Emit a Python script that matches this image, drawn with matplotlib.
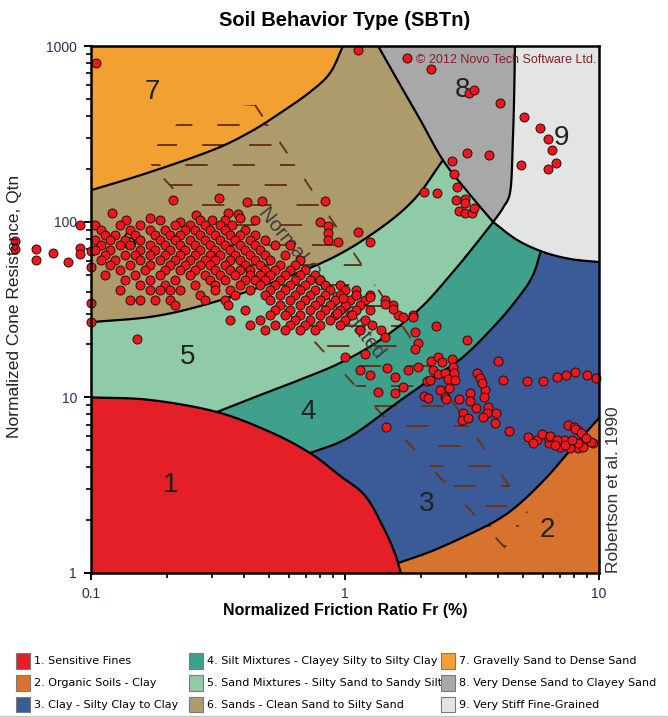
import numpy as np
import matplotlib
matplotlib.use("Agg")
import matplotlib.pyplot as plt
from matplotlib.patches import Patch, Polygon
from matplotlib.lines import Line2D

plt.rcParams['font.family'] = ['Liberation Sans', 'DejaVu Sans']
plt.rcParams['lines.scale_dashes'] = False

# zone colours and legend names
zone_colors = ['#e41f27', '#d8732f', '#3a5a98', '#3fa08c', '#8fcba6',
               '#ad9b6c', '#f3a032', '#a8a8a8', '#e3e4e4']
zone_names = ['1. Sensitive Fines', '2. Organic Soils - Clay', '3. Clay - Silty Clay to Clay',
              '4. Silt Mixtures - Clayey Silty to Silty Clay',
              '5. Sand Mixtures - Silty Sand to Sandy Silt',
              '6. Sands - Clean Sand to Silty Sand', '7. Gravelly Sand to Dense Sand',
              '8. Very Dense Sand to Clayey Sand', '9. Very Stiff Fine-Grained']

# zone boundaries (Fr %, Qtn)
b1_fr = [0.1, 0.171, 0.313, 0.507, 0.728, 0.95, 1.2, 1.42, 1.57, 1.66]
b1_q = [10.0, 9.66, 8.25, 6.35, 4.82, 3.6, 2.75, 1.8, 1.3, 1.0]
b32_fr = [1.62, 2.16, 2.92, 3.97, 4.90, 6.24, 7.72, 10.0]
b32_q = [1.14, 1.32, 1.60, 2.00, 2.50, 3.52, 5.01, 7.63]
b43_fr = [0.728, 0.956, 1.18, 1.60, 2.16, 2.92, 3.97, 4.90, 5.50, 5.90]
b43_q = [4.82, 5.57, 6.69, 9.29, 12.6, 17.0, 26.5, 38.3, 49.7, 68.0]
b54_fr = [0.313, 0.463, 0.665, 0.956, 1.375, 1.98, 2.66, 3.25, 3.83]
b54_q = [8.25, 10.3, 12.6, 15.7, 21.2, 32.2, 51.7, 73.6, 99.5]
b65_fr = [0.1, 0.171, 0.269, 0.463, 0.873, 1.375, 1.89, 2.43]
b65_q = [26.8, 28.7, 33.1, 42.5, 61.3, 91.6, 136, 224]
b76_fr = [0.1, 0.166, 0.302, 0.423, 0.555, 0.728, 0.873, 0.982]
b76_q = [151, 189, 256, 324, 415, 547, 702, 1000]
b8_fr = [1.35, 1.65, 1.98, 2.43, 3.05, 3.83]
b8_q = [1000, 600, 379, 224, 147, 99.5]
b9l_fr = [4.67, 4.63, 4.58, 4.48, 4.19, 3.83]
b9l_q = [1000, 493, 292, 151, 120, 99.5]
b9b_fr = [3.83, 4.76, 6.03, 7.72, 10.0]
b9b_q = [99.5, 78.7, 67.2, 61.3, 58.9]

# normally consolidated band outline
nc_fr = [0.245, 0.442, 5.21, 4.27, 0.163]
nc_q = [432, 462, 2.20, 1.39, 230]

# zone label positions
lab_text = ['1', '2', '3', '4', '5', '6', '7', '8', '9']
lab_fr = [0.205, 6.24, 2.10, 0.715, 0.239, 0.142, 0.174, 2.89, 7.14]
lab_q = [3.17, 1.76, 2.47, 8.25, 17.0, 75.6, 547, 562, 299]

# data points: left of the axis, upper zones, scattered and the clay hook
fr_off = [0.0502, 0.0502, 0.0607, 0.0607, 0.0708, 0.0812, 0.0905, 0.0905, 0.0905, 0.100, 0.100, 0.100, 0.100]
q_off = [77.6, 69.9, 69.9, 60.5, 66.3, 58.9, 95.7, 70.8, 65.4, 68.1, 55.2, 34.4, 26.8]

fr_hi = [0.105, 1.12, 1.75, 2.18, 3.08, 3.22, 4.08, 3.02, 3.69, 2.64, 2.69, 2.76, 2.74, 2.97,
         2.97, 2.80, 2.97, 3.16, 3.22, 2.05, 2.30, 5.07, 5.86, 6.30, 6.53, 6.77, 6.30, 4.93]
q_hi = [800, 948, 855, 740, 540, 562, 474, 246, 240, 221, 187, 157, 133, 135,
        128, 115, 112, 112, 120, 147, 146, 394, 341, 296, 256, 216, 199, 210]

fr_sp = [0.210, 0.319, 0.412, 0.472, 0.835, 0.121, 0.171, 0.224, 0.259, 0.346, 0.379, 0.386,
         0.798, 0.86, 0.86, 0.86, 0.94, 1.12, 1.25]
q_sp = [133, 136, 129, 131, 131, 112, 105, 99, 109, 112, 111, 105,
        100, 94.5, 86, 78.7, 77, 87.4, 76.6]

row_q = [102, 95.7, 89.7, 84.0, 78.7, 73.6, 69.1, 64.6, 60.5, 56.7, 53.1, 49.7,
         46.6, 43.6, 40.8, 38.3, 35.8, 33.5, 31.4, 29.4, 27.6, 25.8, 24.2]
row_fr = [
    [0.137, 0.187, 0.269, 0.300, 0.337, 0.442],
    [0.104, 0.130, 0.156, 0.214, 0.245, 0.281, 0.322, 0.359],
    [0.109, 0.142, 0.171, 0.196, 0.234, 0.257, 0.294, 0.337, 0.404],
    [0.114, 0.124, 0.149, 0.179, 0.205, 0.224, 0.269, 0.308, 0.352, 0.386, 0.442],
    [0.104, 0.119, 0.136, 0.156, 0.187, 0.214, 0.245, 0.281, 0.322, 0.369, 0.423, 0.485],
    [0.109, 0.130, 0.142, 0.171, 0.196, 0.224, 0.257, 0.294, 0.337, 0.386, 0.442, 0.531, 0.608],
    [0.104, 0.119, 0.156, 0.179, 0.205, 0.234, 0.269, 0.308, 0.352, 0.404, 0.463],
    [0.114, 0.136, 0.149, 0.171, 0.196, 0.224, 0.257, 0.294, 0.322, 0.369, 0.423, 0.485, 0.581],
    [0.109, 0.124, 0.156, 0.187, 0.214, 0.245, 0.281, 0.308, 0.352, 0.386, 0.442, 0.507, 0.665],
    [0.119, 0.142, 0.171, 0.205, 0.234, 0.269, 0.294, 0.337, 0.404, 0.463, 0.555, 0.636],
    [0.130, 0.163, 0.196, 0.224, 0.257, 0.308, 0.352, 0.386, 0.423, 0.485, 0.531, 0.608, 0.696],
    [0.114, 0.149, 0.187, 0.245, 0.281, 0.322, 0.369, 0.423, 0.463, 0.507, 0.581, 0.665, 0.762],
    [0.136, 0.171, 0.214, 0.294, 0.337, 0.404, 0.442, 0.485, 0.555, 0.636, 0.728, 0.798],
    [0.156, 0.196, 0.257, 0.308, 0.386, 0.463, 0.531, 0.608, 0.696, 0.835, 0.956],
    [0.130, 0.171, 0.187, 0.205, 0.224, 0.308, 0.352, 0.423, 0.507, 0.581, 0.665, 0.762, 0.873, 1.00, 1.10],
    [0.269, 0.369, 0.485, 0.555, 0.636, 0.728, 0.835, 0.956, 1.10, 1.26],
    [0.142, 0.156, 0.179, 0.205, 0.281, 0.337, 0.507, 0.608, 0.696, 0.798, 0.914, 1.05, 1.20, 1.44],
    [0.214, 0.346, 0.555, 0.665, 0.762, 0.873, 1.00, 1.15, 1.54],
    [0.404, 0.531, 0.608, 0.728, 0.835, 0.956, 1.10, 1.26],
    [0.507, 0.581, 0.665, 0.798, 0.914, 1.05, 1.62, 1.85],
    [0.352, 0.463, 0.636, 0.728, 0.873, 1.00, 1.20],
    [0.423, 0.531, 0.608, 0.696, 0.798, 0.956, 1.28],
    [0.485, 0.581, 0.665, 0.762, 1.15, 1.38],
]

fr_sc = [0.152, 1.44, 1.89, 2.28, 3.02, 1.94, 1.89, 1.20, 1.00, 1.15, 1.26, 1.47, 1.58, 1.77, 1.94,
         2.18, 2.33, 2.41, 2.64, 2.66, 2.22, 2.33, 2.48, 2.68, 2.55, 2.71, 2.11, 2.16, 1.35, 1.58,
         1.69, 2.37, 2.57, 2.48, 2.05, 2.12, 2.50, 2.81, 3.11, 3.11, 3.56, 3.53, 3.28, 3.65, 3.62,
         3.94, 3.49, 3.90, 2.92, 2.89, 3.05, 4.44, 1.45, 3.31, 3.41, 3.46, 4.01, 4.17, 5.22, 6.04,
         6.86, 7.44, 8.08, 8.93, 9.69, 1.26, 1.44, 1.54, 1.69, 1.85, 0.98, 1.10, 1.07, 0.93]
q_sc = [21.5, 22.0, 23.4, 25.4, 21.2, 20.4, 18.9, 17.6, 17.0, 14.3, 13.4, 14.7, 13.0, 14.3, 14.9,
        16.1, 17.0, 15.9, 16.5, 14.9, 14.3, 13.6, 13.7, 13.7, 12.7, 12.6, 12.4, 12.6, 10.7, 10.6,
        11.4, 11.0, 11.3, 10.1, 10.2, 9.9, 9.8, 9.8, 10.6, 9.5, 11.0, 10.1, 8.7, 8.8, 8.1,
        8.1, 7.7, 7.1, 8.1, 7.4, 7.6, 6.4, 6.8, 13.7, 12.9, 12.1, 16.1, 12.6, 12.4, 12.4,
        13.0, 13.4, 13.9, 13.4, 12.9, 37.2, 34.0, 32.0, 28.6, 28.6, 36.9, 38.3, 29.4, 30.2]

fr_cv = [7.58, 7.95, 8.30, 8.62, 8.70, 8.30, 7.72, 7.05, 6.33, 5.72, 5.27, 9.50, 6.27, 7.25,
         8.62, 5.98, 6.44, 6.86, 8.08, 8.46, 9.26, 5.52, 6.74, 7.38, 8.23, 7.86, 8.90]
q_cv = [7.0, 6.8, 6.5, 6.1, 5.6, 5.15, 5.15, 5.2, 5.5, 5.7, 5.95, 5.5, 5.95, 5.7,
        5.2, 6.2, 6.0, 5.7, 6.6, 6.3, 5.6, 5.5, 5.36, 5.36, 5.5, 5.72, 5.85]


def smooth(xs, ys, n=14):
    # Catmull-Rom through the read points, in log space
    P = np.column_stack([np.log10(xs), np.log10(ys)])
    P = np.vstack([2 * P[0] - P[1], P, 2 * P[-1] - P[-2]])
    t = np.linspace(0, 1, n, endpoint=False)[:, None]
    out = []
    for i in range(1, len(P) - 2):
        p0, p1, p2, p3 = P[i - 1], P[i], P[i + 1], P[i + 2]
        out.append(0.5 * (2 * p1 + (p2 - p0) * t + (2 * p0 - 5 * p1 + 4 * p2 - p3) * t ** 2
                          + (3 * p1 - p0 - 3 * p2 + p3) * t ** 3))
    out.append(P[-2][None])
    res = np.vstack(out)
    return list(10 ** res[:, 0]), list(10 ** res[:, 1])


fig = plt.figure(figsize=(6.68, 7.17), dpi=100)
ax = fig.add_axes([91 / 668, 1 - 573 / 717, 508 / 668, 527 / 717])
ax.set_xscale('log')
ax.set_yscale('log')
ax.set_xlim(0.1, 10)
ax.set_ylim(1, 1000)

c1 = smooth(b1_fr, b1_q)
c32 = smooth(b32_fr, b32_q)
c43 = smooth(b43_fr, b43_q)
c54 = smooth(b54_fr, b54_q)
c65 = smooth(b65_fr, b65_q)
c76 = smooth(b76_fr, b76_q)
c8 = smooth(b8_fr, b8_q)
c9l = smooth(b9l_fr, b9l_q)
c9b = smooth(b9b_fr, b9b_q)

# painted back to front
ax.fill([0.1, 10, 10, 0.1], [1, 1, 1000, 1000], color=zone_colors[1], lw=0, zorder=1)
ax.fill([1.62] + c32[0] + [10, 0.1, 0.1], [1] + c32[1] + [1000, 1000, 1], color=zone_colors[2], lw=0, zorder=1)
ax.fill(c43[0] + [c43[0][-1], 0.1, 0.1, c43[0][0]], c43[1] + [1000, 1000, 1, 1], color=zone_colors[3], lw=0, zorder=1)
ax.fill(c54[0] + [c54[0][-1], 0.1, 0.1, c54[0][0]], c54[1] + [1000, 1000, 1, 1], color=zone_colors[4], lw=0, zorder=1)
ax.fill(c65[0] + [c65[0][-1], 0.1], c65[1] + [1000, 1000], color=zone_colors[5], lw=0, zorder=1)
ax.fill(c76[0] + [0.1], c76[1] + [1000], color=zone_colors[6], lw=0, zorder=1)
ax.fill(c1[0] + [0.1], c1[1] + [1], color=zone_colors[0], lw=0, zorder=1)
ax.fill(c8[0] + c9l[0][::-1], c8[1] + c9l[1][::-1], color=zone_colors[7], lw=0, zorder=1)
ax.fill(c9l[0] + c9b[0] + [10], c9l[1] + c9b[1] + [1000], color=zone_colors[8], lw=0, zorder=1)

# normally consolidated hatch
band = Polygon(np.column_stack([nc_fr, nc_q]), closed=True, transform=ax.transData,
               fill=False, edgecolor='none')
ax.add_patch(band)
dash_col = '#6a3418'
for k, lq in enumerate(np.arange(np.log10(460), 0.1, -0.114)):
    ln, = ax.plot([0.1, 10], [10 ** lq, 10 ** lq], color=dash_col, lw=1.4,
                  linestyle=((k % 3) * 11, (16, 18)), zorder=2)
    ln.set_clip_path(band)
ax.plot([nc_fr[1], nc_fr[2]], [nc_q[1], nc_q[2]], color=dash_col, lw=1.4, ls=(0, (10, 22)), zorder=2)
ax.plot([nc_fr[3], nc_fr[4]], [nc_q[3], nc_q[4]], color=dash_col, lw=1.4, ls=(0, (10, 22)), zorder=2)

for c in [c1, c32, c43, c54, c65, c76, c8, c9l, c9b]:
    ax.plot(c[0], c[1], color='black', lw=1.6, zorder=3, solid_capstyle='round')

for t, x, y in zip(lab_text, lab_fr, lab_q):
    ax.text(x, y, t, fontsize=20, color='#222222', ha='center', va='center', zorder=3)

ax.text(0.81, 44.8, 'Normal Consolidated', fontsize=14.5, color='#3a3a3a', rotation=-51,
        rotation_mode='anchor', ha='center', va='center', zorder=3.5)

fr_all = fr_off + fr_hi + fr_sp + [f for r in row_fr for f in r] + fr_sc + fr_cv
q_all = q_off + q_hi + q_sp + [q for q, r in zip(row_q, row_fr) for _ in r] + q_sc + q_cv
ax.scatter(fr_all, q_all, s=42, facecolor='#f0161c', edgecolor='#2a0a0a', linewidth=0.7,
           zorder=4, clip_on=False)

ax.text(9.8, 830, '\u00a9 2012 Novo Tech Software Ltd.', fontsize=9, color='#8a1c2a',
        ha='right', va='center', zorder=5)

ax.set_xticks([0.1, 1, 10], ['0.1', '1', '10'])
ax.set_yticks([1, 10, 100, 1000], ['1', '10', '100', '1000'])
ax.xaxis.set_minor_formatter(plt.NullFormatter())
ax.yaxis.set_minor_formatter(plt.NullFormatter())
ax.tick_params(which='major', direction='out', length=5, width=1.4, labelsize=10,
               labelcolor='#23324f', pad=5)
ax.tick_params(which='minor', direction='out', length=3.5, width=1.2)
for s in ax.spines.values():
    s.set_linewidth(1.8)
    s.set_zorder(6)

fig.text(345 / 668, 1 - 20 / 717, 'Soil Behavior Type (SBTn)', fontsize=14.5, weight='bold',
         ha='center', va='center')
fig.text(345 / 668, 1 - 610 / 717, 'Normalized Friction Ratio Fr (%)', fontsize=11.5,
         weight='bold', ha='center', va='center')
fig.text(15 / 668, 1 - 306 / 717, 'Normalized Cone Resistance, Qtn', fontsize=12.5,
         rotation=90, ha='center', va='center', color='#222222')
fig.text(613 / 668, 1 - 573 / 717, 'Robertson et al. 1990', fontsize=12.5, rotation=90,
         ha='center', va='bottom', color='#333333')

handles = [Patch(facecolor=c, edgecolor='#7a7a7a', lw=0.8) for c in zone_colors]
for col, x0 in enumerate([16, 189, 441]):
    fig.legend(handles[col * 3:col * 3 + 3], zone_names[col * 3:col * 3 + 3],
               loc='upper left', bbox_to_anchor=(x0 / 668, 1 - 653 / 717), frameon=False,
               prop={'family': 'DejaVu Sans', 'size': 8}, handlelength=1.3, handleheight=1.8,
               handletextpad=0.3, labelspacing=0.55, borderpad=0, borderaxespad=0)

# thin grey rule along the bottom edge
fig.add_artist(Line2D([0, 1], [1 - 715.5 / 717] * 2, transform=fig.transFigure,
                      color='#c8c8c8', lw=1))

fig.savefig('out.png', dpi=100, facecolor='white')
